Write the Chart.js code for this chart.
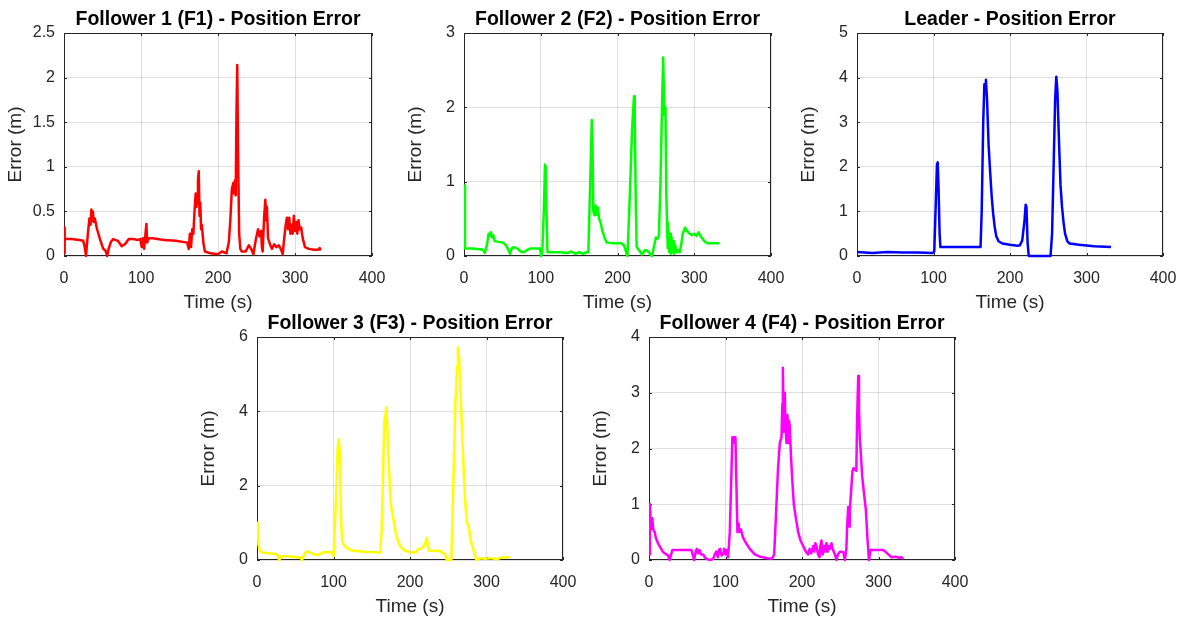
<!DOCTYPE html>
<html>
<head>
<meta charset="utf-8">
<script src="https://cdn.jsdelivr.net/npm/chart.js@4/dist/chart.umd.min.js"></script>
<style>
  html, body { margin: 0; padding: 0; background: #fff; }
  body { width: 1189px; height: 617px; position: relative; overflow: hidden; }
  canvas { position: absolute; }
</style>
</head>
<body>
<canvas id="c1"></canvas>
<canvas id="c2"></canvas>
<canvas id="c3"></canvas>
<canvas id="c4"></canvas>
<canvas id="c5"></canvas>
<script>
// values (time in s, error in m)
var f1Time = [0, 0.5, 1.2, 10, 20, 25, 27, 28.6, 31, 33, 34.5, 35.5, 36.5, 37.5, 38.5, 40, 43, 47, 51, 54, 56, 58, 61, 64, 70, 75, 80, 84, 90, 96, 99, 101, 102.5, 104, 105.5, 107, 108, 110, 115, 130, 145, 160, 162, 163.5, 165, 166.5, 168, 169.5, 171, 172, 173, 174, 175, 176, 177, 178, 179, 181, 183, 190, 200, 205, 211, 214, 216, 218, 220, 221, 222, 223, 224, 225, 226, 227.5, 229, 231, 236, 240, 243, 246, 249, 252, 254, 256, 257, 258, 260, 261.5, 262.5, 263.5, 265, 268, 270, 273, 276, 279, 282, 284, 286, 288, 289.5, 291, 292.5, 294, 295.5, 297, 298.5, 300, 301.5, 303, 304.5, 306, 308, 310, 313, 318, 325, 330, 332, 333];
var f1Err = [0.03, 0.32, 0.19, 0.19, 0.18, 0.17, 0.1, 0.0, 0.25, 0.42, 0.35, 0.52, 0.4, 0.5, 0.38, 0.42, 0.3, 0.18, 0.08, 0.06, 0.0, 0.08, 0.16, 0.19, 0.17, 0.11, 0.14, 0.19, 0.19, 0.18, 0.19, 0.1, 0.2, 0.08, 0.22, 0.36, 0.15, 0.2, 0.2, 0.18, 0.17, 0.15, 0.08, 0.25, 0.1, 0.3, 0.25, 0.5, 0.7, 0.55, 0.65, 0.85, 0.95, 0.45, 0.6, 0.3, 0.35, 0.15, 0.05, 0.03, 0.02, 0.05, 0.03, 0.15, 0.4, 0.75, 0.82, 0.7, 0.85, 0.68, 1.6, 2.14, 1.2, 0.25, 0.08, 0.05, 0.05, 0.12, 0.08, 0.02, 0.18, 0.3, 0.22, 0.28, 0.1, 0.05, 0.45, 0.63, 0.4, 0.55, 0.2, 0.12, 0.08, 0.13, 0.1, 0.12, 0.07, 0.02, 0.2, 0.35, 0.43, 0.3, 0.43, 0.25, 0.35, 0.25, 0.45, 0.28, 0.38, 0.25, 0.4, 0.3, 0.32, 0.2, 0.1, 0.08, 0.07, 0.07, 0.09, 0.06];

var f2Time = [0, 1.3, 10, 21, 25, 27, 30, 32, 33.5, 35, 36.5, 38, 40, 45, 51, 55, 58, 60, 62, 65, 70, 74, 78, 82, 86, 95, 99, 100.5, 102, 104, 105.5, 106.5, 107.5, 108.7, 115, 125, 135, 140, 145, 150, 155, 160, 162, 164.5, 166.5, 167.3, 168.5, 170, 171.5, 173, 174.5, 176, 178, 180, 183, 186, 195, 205, 208, 210, 212, 213, 216, 219, 221.5, 222.5, 224, 225, 228, 232, 236, 239, 243, 245, 248, 250, 252, 254, 256, 258, 259.5, 261, 262.5, 263.5, 264.5, 265.5, 266.5, 267.5, 268.5, 269.5, 270.5, 271.5, 272.5, 273.5, 275, 277, 279, 281, 283, 285, 288, 291, 294, 297, 300, 303, 305.5, 308, 311, 314, 318, 325, 333];
var f2Err = [0.95, 0.1, 0.1, 0.09, 0.08, 0.04, 0.15, 0.3, 0.27, 0.32, 0.25, 0.28, 0.2, 0.19, 0.18, 0.14, 0.08, 0.03, 0.1, 0.12, 0.1, 0.06, 0.05, 0.08, 0.1, 0.1, 0.1, 0.0, 0.05, 0.6, 1.23, 1.2, 0.6, 0.05, 0.05, 0.05, 0.04, 0.06, 0.03, 0.05, 0.03, 0.05, 0.05, 1.0, 1.83, 1.6, 0.6, 0.55, 0.68, 0.55, 0.65, 0.5, 0.45, 0.35, 0.25, 0.18, 0.17, 0.17, 0.15, 0.1, 0.02, 0.0, 0.8, 1.7, 2.15, 1.8, 0.6, 0.12, 0.08, 0.02, 0.08, 0.07, 0.02, 0.0, 0.15, 0.25, 0.23, 0.28, 1.0, 2.0, 2.67, 1.9, 2.0, 0.9, 0.45, 0.1, 0.35, 0.05, 0.3, 0.03, 0.25, 0.05, 0.2, 0.03, 0.15, 0.05, 0.08, 0.05, 0.15, 0.3, 0.38, 0.33, 0.3, 0.28, 0.3, 0.27, 0.32, 0.27, 0.23, 0.19, 0.17, 0.17, 0.17];

var leaderTime = [0, 10, 20, 30, 40, 60, 80, 99, 101, 103, 104.5, 105.5, 106.5, 108, 109, 120, 140, 161.5, 163, 165, 166.5, 167.5, 168.5, 170, 172, 174, 176, 178, 180, 182, 185, 190, 200, 210, 213, 216, 219, 220.5, 221.5, 223, 224.5, 240, 253, 255, 257, 259, 260.5, 262, 264, 266, 268, 270, 272, 275, 278, 290, 310, 332];
var leaderErr = [0.09, 0.08, 0.07, 0.08, 0.09, 0.08, 0.08, 0.07, 0.1, 1.2, 2.05, 2.1, 1.6, 0.5, 0.2, 0.2, 0.2, 0.2, 1.0, 3.0, 3.85, 3.8, 3.95, 3.5, 2.5, 1.9, 1.35, 0.95, 0.65, 0.45, 0.33, 0.28, 0.25, 0.23, 0.24, 0.35, 0.8, 1.15, 1.1, 0.3, 0.0, 0.0, 0.0, 0.5, 2.0, 3.5, 4.02, 3.7, 2.6, 1.6, 1.1, 0.75, 0.5, 0.33, 0.28, 0.25, 0.22, 0.2];

var f3Time = [0, 1, 2, 4, 6.5, 15, 25, 27, 29, 32, 40, 50, 56.5, 58.8, 62, 64, 67, 72, 76, 80, 84, 87, 93, 99, 100, 103, 105.5, 106.8, 108, 110, 111.5, 113, 117.6, 125, 140, 161, 163, 165, 166.5, 168, 169, 170.5, 172.5, 174.5, 175.6, 177.5, 180.8, 183, 186.5, 190, 194, 200, 205, 208, 211, 214, 217, 220, 222, 223.5, 225, 230, 235, 239.6, 242, 246, 248, 254, 256, 259, 261.5, 262.7, 264, 265, 267, 270, 272, 274.5, 276.5, 279.7, 282, 284, 286.7, 292, 298, 305, 313.7, 318, 325, 331];
var f3Err = [1.0, 0.7, 0.4, 0.25, 0.2, 0.18, 0.16, 0.12, 0.0, 0.1, 0.1, 0.08, 0.07, 0.0, 0.15, 0.22, 0.22, 0.17, 0.14, 0.14, 0.18, 0.21, 0.21, 0.2, 0.1, 1.5, 3.0, 3.25, 3.0, 1.0, 0.5, 0.42, 0.32, 0.25, 0.22, 0.2, 0.8, 2.5, 3.8, 3.9, 4.1, 3.5, 2.5, 1.6, 1.4, 1.2, 0.8, 0.6, 0.4, 0.3, 0.25, 0.21, 0.2, 0.22, 0.3, 0.3, 0.35, 0.45, 0.6, 0.35, 0.25, 0.25, 0.24, 0.25, 0.2, 0.15, 0.0, 0.0, 1.5, 4.0, 5.2, 5.72, 5.5, 5.0, 4.0, 2.5, 1.6, 1.0, 0.9, 0.5, 0.35, 0.2, 0.0, 0.05, 0.03, 0.05, 0.02, 0.06, 0.07, 0.08];

var f4Time = [0, 1.3, 2.5, 3.5, 4.4, 5.5, 7.4, 9, 11.8, 15, 18, 22.7, 25, 27, 30.5, 40, 50, 55.4, 57, 59, 61, 62.5, 64, 66, 68, 70.7, 73, 75, 80, 83.8, 86, 88, 90, 91.5, 93, 95, 96.8, 98, 100, 101.5, 103.4, 105.6, 107, 109, 110.5, 111.5, 113, 114.5, 115.6, 116.5, 117.3, 118.5, 120, 123, 127, 131.7, 135, 138.3, 145, 149, 155, 160, 162, 163.6, 165, 166.6, 168.5, 171, 173.2, 174.3, 175, 176, 177, 177.5, 178.5, 179.7, 181, 182, 183, 184, 185.5, 187, 189.3, 192, 195, 198, 201.5, 205, 208, 210, 212, 214.6, 216, 217.5, 219, 221, 223, 224, 225.5, 227, 229, 230.5, 232, 233.5, 235, 236.5, 238.6, 240, 243, 245, 247, 249.5, 252, 254, 256, 258, 259, 260.4, 261.5, 262.5, 264, 266, 267.5, 269, 271, 272, 273.5, 274.5, 275.5, 276.5, 278.7, 281, 283.5, 285.5, 287.5, 289.6, 300, 306, 309, 312.8, 317, 322, 327, 330, 332.4];
var f4Err = [0.1, 1.0, 0.55, 0.7, 0.75, 0.55, 0.5, 0.4, 0.3, 0.22, 0.15, 0.1, 0.08, 0.0, 0.18, 0.18, 0.18, 0.18, 0.1, 0.0, 0.15, 0.2, 0.12, 0.18, 0.1, 0.1, 0.05, 0.02, 0.0, 0.02, 0.1, 0.15, 0.05, 0.18, 0.2, 0.08, 0.12, 0.2, 0.1, 0.18, 0.05, 0.5, 1.2, 2.2, 2.1, 2.2, 2.2, 1.2, 0.5, 0.65, 0.6, 0.5, 0.55, 0.4, 0.3, 0.2, 0.15, 0.1, 0.06, 0.05, 0.03, 0.02, 0.05, 0.1, 0.5, 1.0, 1.6, 2.1, 2.2, 2.8, 3.45, 2.3, 2.9, 3.0, 2.4, 2.1, 2.6, 2.1, 2.5, 2.4, 1.9, 1.5, 1.0, 0.75, 0.5, 0.35, 0.25, 0.15, 0.1, 0.2, 0.12, 0.25, 0.15, 0.3, 0.25, 0.1, 0.05, 0.25, 0.35, 0.1, 0.25, 0.15, 0.3, 0.15, 0.25, 0.2, 0.3, 0.2, 0.1, 0.0, 0.1, 0.15, 0.15, 0.14, 0.0, 0.2, 0.6, 0.95, 0.6, 0.9, 1.2, 1.6, 1.65, 1.62, 1.6, 2.5, 3.3, 2.7, 2.2, 2.0, 1.5, 1.2, 0.9, 0.4, 0.0, 0.18, 0.18, 0.18, 0.15, 0.1, 0.05, 0.06, 0.04, 0.05, 0.02];

var xTicks = [0, 100, 200, 300, 400];

// box round each axes with small inward ticks on all four sides (MATLAB look),
// drawn under the data like MATLAB does
var axesBox = {
    id: 'axesBox',
    beforeDraw: function(chart){
        // centre the title over the plot area, not over the whole canvas
        chart.titleBlock.left = chart.chartArea.left;
        chart.titleBlock.right = chart.chartArea.right;
    },
    beforeDatasetsDraw: function(chart){
        var ctx = chart.ctx, a = chart.chartArea;
        var sx = chart.scales.x, sy = chart.scales.y;
        var tl = 3;
        ctx.save();
        ctx.strokeStyle = '#262626';
        ctx.lineWidth = 1;
        ctx.strokeRect(a.left + 0.5, a.top + 0.5, a.right - a.left - 1, a.bottom - a.top - 1);
        ctx.beginPath();
        sx.ticks.forEach(function(t){
            var px = Math.round(sx.getPixelForValue(t.value)) + 0.5;
            ctx.moveTo(px, a.bottom); ctx.lineTo(px, a.bottom - tl);
            ctx.moveTo(px, a.top); ctx.lineTo(px, a.top + tl);
        });
        sy.ticks.forEach(function(t){
            var py = Math.round(sy.getPixelForValue(t.value)) + 0.5;
            ctx.moveTo(a.left, py); ctx.lineTo(a.left + tl, py);
            ctx.moveTo(a.right, py); ctx.lineTo(a.right - tl, py);
        });
        ctx.stroke();
        ctx.restore();
    }
};

var FONT = "'Liberation Sans', Arial, sans-serif";
var AXIS_W = 64, TITLE_H = 33, PLOT_H = 223, XAXIS_H = 58;

function drawPanel(id, left, top, plotW, title, times, errs, color, yMax, yStep){
    var canvas = document.getElementById(id);
    var w = AXIS_W + plotW + 22;
    var h = TITLE_H + PLOT_H + XAXIS_H;
    canvas.width = w;
    canvas.height = h;
    canvas.style.left = (left - AXIS_W) + 'px';
    canvas.style.top = (top - TITLE_H) + 'px';

    var points = times.map(function(t, i){ return {x: t, y: errs[i]}; });

    return new Chart(canvas, {
        type: 'line',
        data: {
            datasets: [{
                data: points,
                borderColor: color,
                borderWidth: 2.5,
                borderJoinStyle: 'round',
                pointRadius: 0,
                tension: 0,
                fill: false,
                clip: {left: 0, top: 0, right: 0, bottom: 2}
            }]
        },
        options: {
            responsive: false,
            animation: false,
            layout: { padding: { left: 4, right: w - AXIS_W - plotW, top: 0, bottom: 0 } },
            plugins: {
                legend: { display: false },
                tooltip: { enabled: false },
                title: {
                    display: true,
                    text: title,
                    color: '#000',
                    font: { family: FONT, size: 19.5, weight: 'bold', lineHeight: 1.2 },
                    padding: { top: 8.3, bottom: TITLE_H - 8.3 - 23.4 }
                }
            },
            scales: {
                x: {
                    type: 'linear',
                    min: 0,
                    max: 400,
                    afterBuildTicks: function(s){ s.ticks = xTicks.map(function(v){ return {value: v}; }); },
                    afterFit: function(s){
                        s.height = XAXIS_H;
                        s.paddingLeft = 0;
                        s.paddingRight = 0;
                    },
                    grid: { color: 'rgba(38,38,38,0.15)', drawTicks: false },
                    border: { display: false },
                    ticks: {
                        color: '#262626',
                        padding: 13,
                        maxRotation: 0,
                        font: { family: FONT, size: 16 },
                        callback: function(v){ return String(v); }
                    },
                    title: {
                        display: true,
                        text: 'Time (s)',
                        color: '#262626',
                        padding: 0,
                        font: { family: FONT, size: 19 }
                    }
                },
                y: {
                    min: 0,
                    max: yMax,
                    afterFit: function(s){
                        s.width = AXIS_W - 4;
                        s.paddingTop = 0;
                        s.paddingBottom = 0;
                    },
                    grid: { color: 'rgba(38,38,38,0.15)', drawTicks: false },
                    border: { display: false },
                    ticks: {
                        stepSize: yStep,
                        color: '#262626',
                        padding: 9,
                        font: { family: FONT, size: 16 },
                        callback: function(v){ return String(v); }
                    },
                    title: {
                        display: true,
                        text: 'Error (m)',
                        color: '#262626',
                        padding: 0,
                        font: { family: FONT, size: 19 }
                    }
                }
            }
        },
        plugins: [axesBox]
    });
}

drawPanel('c1', 64, 33, 308, 'Follower 1 (F1) - Position Error', f1Time, f1Err, '#ff0000', 2.5, 0.5);
drawPanel('c2', 464, 33, 307, 'Follower 2 (F2) - Position Error', f2Time, f2Err, '#00ff00', 3, 1);
drawPanel('c3', 857, 33, 306, 'Leader - Position Error', leaderTime, leaderErr, '#0000ff', 5, 1);
drawPanel('c4', 257, 337, 306, 'Follower 3 (F3) - Position Error', f3Time, f3Err, '#ffff00', 6, 2);
drawPanel('c5', 649, 337, 306, 'Follower 4 (F4) - Position Error', f4Time, f4Err, '#ff00ff', 4, 1);
</script>
</body>
</html>
